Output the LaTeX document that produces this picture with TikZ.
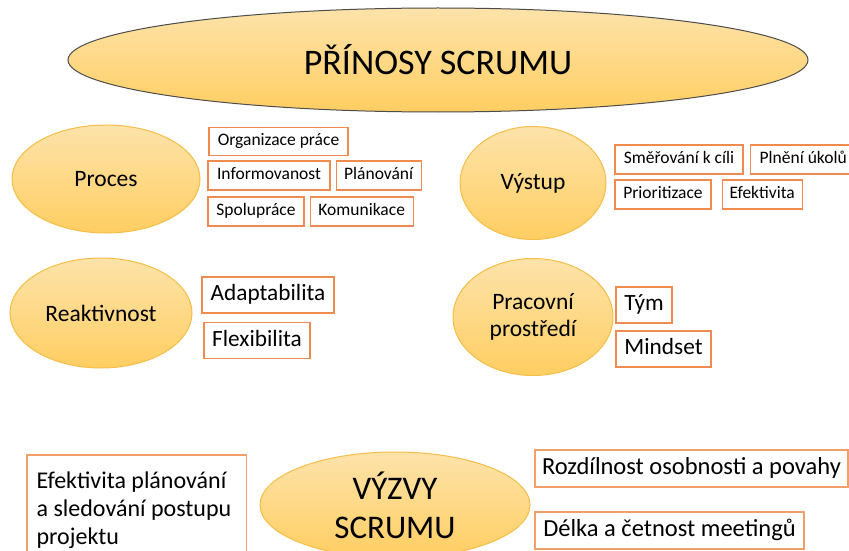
\documentclass[tikz,border=0pt]{standalone}
\usepackage{fontspec}
\setmainfont{Carlito}
\usetikzlibrary{positioning,shapes.geometric}
\definecolor{boxline}{RGB}{239,138,80}
\definecolor{paleline}{RGB}{242,160,105}
\definecolor{ovaltop}{RGB}{253,227,170}
\definecolor{ovalbot}{RGB}{255,206,98}
\definecolor{ovalline}{RGB}{244,190,72}
\begin{document}
\begin{tikzpicture}[x=1pt,y=-1pt,
  oval/.style={ellipse,draw=ovalline,line width=1pt,top color=ovaltop,bottom color=ovalbot,inner sep=0pt,font=\fontsize{23.5}{27}\selectfont,align=center},
  item/.style={draw=boxline,line width=1.2pt,fill=white,inner sep=0pt,minimum height=28pt,text height=12pt,text depth=3.5pt,font=\fontsize{17.5}{18}\selectfont},
  bigitem/.style={item,minimum height=36pt,text height=16pt,text depth=5pt,font=\fontsize{23.3}{26}\selectfont},
  wideitem/.style={item,draw=paleline,minimum height=37pt,text height=16pt,text depth=5pt,font=\fontsize{24.5}{28}\selectfont}]
\useasboundingbox[fill=white] (0,0) rectangle (849,551);
% title
\node[oval,draw=gray!60!black,minimum width=740pt,minimum height=104pt,font=\fontsize{36}{40}\selectfont](tit) at (438,60){PŘÍNOSY SCRUMU};
% proces
\node[oval,minimum width=188pt,minimum height=108pt](pro) at (106,179){Proces};
\node[item,minimum width=139pt](org) at (278.5,141.5){Organizace práce};
\node[item,minimum width=122pt,minimum height=29pt](inf) at (269,175.5){Informovanost};
\node[item,minimum width=85pt,minimum height=29pt,right=5pt of inf](pla){Plánování};
\node[item,minimum width=96pt,minimum height=29pt](spo) at (256,211.5){Spolupráce};
\node[item,minimum width=103pt,minimum height=29pt,right=5pt of spo](kom){Komunikace};
% reaktivnost
\node[oval,minimum width=182pt,minimum height=110pt](rea) at (101,313){Reaktivnost};
\node[bigitem,minimum width=132pt](ada) at (268,295){Adaptabilita};
\node[bigitem,minimum width=106pt](fle) at (257,340.5){Flexibilita};
% vystup
\node[oval,minimum width=146pt,minimum height=113pt](vys) at (533,183){Výstup};
\node[item,minimum width=128pt,minimum height=29pt](sme) at (679,159.5){Směřování k cíli};
\node[item,minimum width=106pt,minimum height=29pt,right=6pt of sme](pln){Plnění úkolů};
\node[item,minimum width=96pt,minimum height=29pt](pri) at (663,194.5){Prioritizace};
\node[item,minimum width=80pt,minimum height=29pt,right=10pt of pri](efe){Efektivita};
% pracovni prostredi
\node[oval,minimum width=160pt,minimum height=117pt](pra) at (533,317){Pracovní\\prostředí};
\node[bigitem,minimum width=56pt](tym) at (644,305){Tým};
\node[bigitem,minimum width=95pt](min) at (663.5,349){Mindset};
% vyzvy
\node[oval,minimum width=270pt,minimum height=106pt,font=\fontsize{33}{39}\selectfont](vyz) at (395,505){VÝZVY\\SCRUMU};
\node[wideitem,draw=none,text height={},text depth={},anchor=north west,minimum height=110pt,inner xsep=9pt,inner ysep=7pt,text width=200pt,align=flush left,font=\fontsize{24}{28}\selectfont](epl) at (27,455){Efektivita plánování a sledování postupu projektu};
\draw[paleline,line width=1.2pt] (epl.north west) rectangle (epl.south east);
\node[wideitem,minimum width=313pt](roz) at (691.5,468.5){Rozdílnost osobnosti a povahy};
\node[wideitem,minimum width=269pt](del) at (669.5,530.5){Délka a četnost meetingů};
\end{tikzpicture}
\end{document}
